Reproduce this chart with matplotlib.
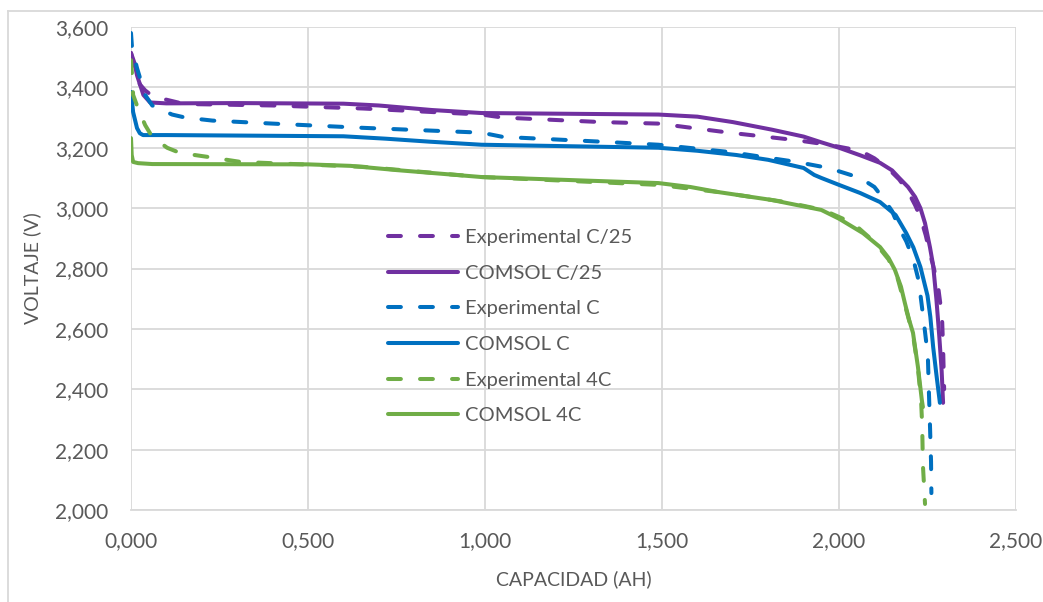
import matplotlib
matplotlib.use("Agg")
import matplotlib.pyplot as plt
from matplotlib.lines import Line2D
from matplotlib.ticker import FuncFormatter, MultipleLocator

# curvas de descarga: capacidad (Ah) vs voltaje (V)
cap_exp_c25 = [0.000, 0.010, 0.025, 0.040, 0.062, 0.150, 0.400, 0.655, 0.990, 1.050, 1.330,
               1.490, 1.690, 1.880, 1.970, 2.060, 2.100, 2.140, 2.170, 2.195, 2.215, 2.230,
               2.245, 2.257, 2.268, 2.280, 2.291, 2.294, 2.297]
v_exp_c25 = [3.514, 3.460, 3.410, 3.390, 3.370, 3.345, 3.340, 3.330, 3.310, 3.300, 3.285,
             3.280, 3.250, 3.225, 3.210, 3.190, 3.165, 3.130, 3.095, 3.055, 3.010, 2.970,
             2.910, 2.850, 2.800, 2.740, 2.640, 2.540, 2.400]

cap_com_c25 = [0.000, 0.010, 0.017, 0.035, 0.054, 0.100, 0.300, 0.600, 0.700, 0.850, 0.990,
               1.490, 1.600, 1.700, 1.810, 1.900, 1.950, 2.000, 2.060, 2.116, 2.150, 2.170,
               2.195, 2.215, 2.230, 2.243, 2.257, 2.266, 2.275, 2.283, 2.290, 2.294]
v_com_c25 = [3.514, 3.480, 3.440, 3.375, 3.350, 3.347, 3.348, 3.346, 3.340, 3.325, 3.315,
             3.310, 3.303, 3.285, 3.260, 3.237, 3.218, 3.200, 3.175, 3.150, 3.125, 3.100,
             3.070, 3.037, 3.000, 2.950, 2.870, 2.810, 2.700, 2.580, 2.460, 2.355]

cap_exp_c = [0.000, 0.003, 0.017, 0.040, 0.060, 0.116, 0.153, 0.230, 0.400, 0.655, 0.990,
             1.050, 1.330, 1.490, 1.690, 1.880, 1.970, 2.060, 2.100, 2.124, 2.150, 2.170,
             2.190, 2.210, 2.225, 2.240, 2.251, 2.254, 2.257, 2.260, 2.261]
v_exp_c = [3.580, 3.530, 3.464, 3.375, 3.340, 3.310, 3.300, 3.290, 3.280, 3.266, 3.250,
           3.236, 3.220, 3.210, 3.186, 3.153, 3.133, 3.100, 3.070, 3.034, 2.990, 2.934,
           2.890, 2.830, 2.760, 2.620, 2.510, 2.390, 2.280, 2.160, 2.056]

cap_com_c = [0.000, 0.006, 0.017, 0.025, 0.034, 0.100, 0.600, 0.720, 0.845, 0.990, 1.490,
             1.600, 1.710, 1.800, 1.900, 1.930, 1.950, 2.000, 2.060, 2.116, 2.160, 2.190,
             2.210, 2.230, 2.250, 2.258, 2.266, 2.275, 2.285]
v_com_c = [3.385, 3.318, 3.265, 3.248, 3.242, 3.242, 3.238, 3.230, 3.220, 3.210, 3.200,
           3.190, 3.176, 3.160, 3.133, 3.110, 3.100, 3.077, 3.050, 3.020, 2.977, 2.917,
           2.870, 2.805, 2.710, 2.640, 2.540, 2.450, 2.355]

cap_exp_4c = [0.000, 0.003, 0.006, 0.020, 0.040, 0.060, 0.102, 0.138, 0.215, 0.310, 0.655,
              0.990, 1.490, 1.660, 1.850, 1.955, 2.040, 2.100, 2.140, 2.165, 2.186, 2.209,
              2.223, 2.232, 2.235, 2.237, 2.243]
v_exp_4c = [3.490, 3.440, 3.375, 3.330, 3.275, 3.236, 3.200, 3.183, 3.170, 3.153, 3.137,
            3.103, 3.077, 3.053, 3.020, 2.994, 2.950, 2.888, 2.830, 2.770, 2.680, 2.580,
            2.470, 2.360, 2.280, 2.150, 2.020]

cap_com_4c = [0.000, 0.002, 0.006, 0.020, 0.060, 0.500, 0.620, 0.750, 0.990, 1.490, 1.580,
              1.660, 1.810, 1.950, 2.000, 2.068, 2.116, 2.140, 2.158, 2.175, 2.186, 2.198,
              2.209, 2.223, 2.234, 2.237]
v_com_4c = [3.232, 3.176, 3.153, 3.149, 3.146, 3.145, 3.140, 3.126, 3.103, 3.083, 3.070,
            3.053, 3.027, 2.994, 2.965, 2.917, 2.871, 2.835, 2.795, 2.740, 2.686, 2.630,
            2.587, 2.474, 2.364, 2.341]

morado = '#7030A0'
azul = '#0070C0'
verde = '#70AD47'
gris_txt = '#595959'
gris_rej = '#D9D9D9'

plt.rcParams['font.family'] = ['Lato', 'DejaVu Sans']

fig = plt.figure(figsize=(10.43, 6.02), dpi=100)
ax = fig.add_axes([131 / 1043, 1 - 510 / 602, (1016 - 131) / 1043, (510 - 27) / 602])

lw = 2.9
guion = (3.2, 4.75)
series = [
    (cap_exp_c25, v_exp_c25, morado, True, 'Experimental C/25'),
    (cap_com_c25, v_com_c25, morado, False, 'COMSOL C/25'),
    (cap_exp_c, v_exp_c, azul, True, 'Experimental C'),
    (cap_com_c, v_com_c, azul, False, 'COMSOL C'),
    (cap_exp_4c, v_exp_4c, verde, True, 'Experimental 4C'),
    (cap_com_4c, v_com_4c, verde, False, 'COMSOL 4C'),
]
for x, y, c, dashed, nombre in series:
    if dashed:
        ax.plot(x, y, color=c, lw=lw, linestyle=(0, guion), dash_capstyle='round',
                dash_joinstyle='round', label=nombre, zorder=3)
    else:
        ax.plot(x, y, color=c, lw=lw, solid_capstyle='round', solid_joinstyle='round',
                label=nombre, zorder=3)

ax.set_xlim(0, 2.5)
ax.set_ylim(2.0, 3.6)
ax.xaxis.set_major_locator(MultipleLocator(0.5))
ax.yaxis.set_major_locator(MultipleLocator(0.2))
fmt = FuncFormatter(lambda v, p: ('%.3f' % v).replace('.', ','))
ax.xaxis.set_major_formatter(fmt)
ax.yaxis.set_major_formatter(fmt)
ax.grid(True, color=gris_rej, lw=1.3, zorder=0)
ax.set_axisbelow(True)
for s in ['top', 'right', 'left']:
    ax.spines[s].set_visible(False)
ax.spines['bottom'].set_color(gris_rej)
ax.spines['bottom'].set_linewidth(1.3)
ax.tick_params(length=0, labelsize=15, colors=gris_txt)
ax.tick_params(axis='y', pad=16.5)
ax.tick_params(axis='x', pad=15)

ax.set_xlabel('CAPACIDAD (AH)', fontsize=14, color=gris_txt, labelpad=14)
ax.set_ylabel('VOLTAJE (V)', fontsize=14, color=gris_txt, labelpad=10)

leg = ax.legend(loc='upper left', bbox_to_anchor=(388 / 1043, 1 - 229 / 602),
                bbox_transform=fig.transFigure, frameon=False, fontsize=14.5,
                handlelength=3.5, handletextpad=0.3, labelspacing=0.92,
                borderpad=0, borderaxespad=0)
for t in leg.get_texts():
    t.set_color(gris_txt)

# marco del area del grafico
fig.add_artist(Line2D([8 / 1043, 8 / 1043], [0, 1 - 11 / 602], transform=fig.transFigure,
                      color=gris_rej, lw=1.3))
fig.add_artist(Line2D([8 / 1043, 1], [1 - 11 / 602, 1 - 11 / 602], transform=fig.transFigure,
                      color=gris_rej, lw=1.3))

fig.savefig('out.png', dpi=100)
